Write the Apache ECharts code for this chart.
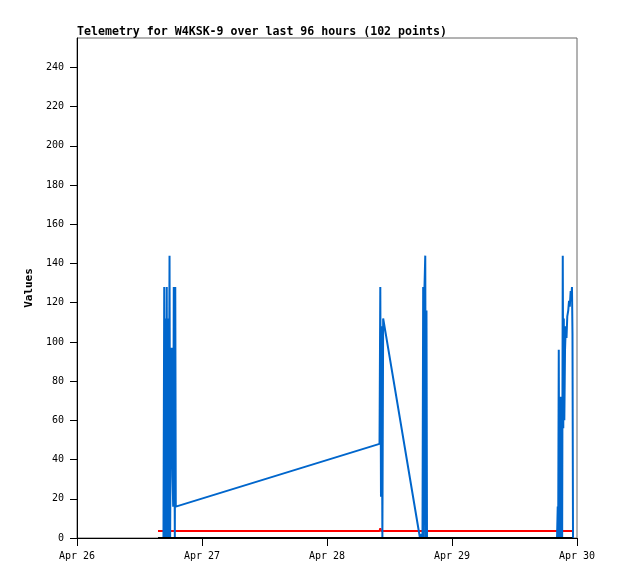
<!DOCTYPE html>
<html>
<head>
<meta charset="utf-8">
<script src="https://cdn.jsdelivr.net/npm/echarts@6/dist/echarts.min.js"></script>
<style>html,body{margin:0;padding:0;background:#fff}#c{width:618px;height:579px}</style>
</head>
<body>
<div id="c"></div>
<script>
const titleText = 'Telemetry for W4KSK-9 over last 96 hours (102 points)';
const axisStart = '2024-04-26 00:00';
const xTickLabels = ['Apr 26', 'Apr 27', 'Apr 28', 'Apr 29', 'Apr 30'];
const yTickValues = [0, 20, 40, 60, 80, 100, 120, 140, 160, 180, 200, 220, 240];

const times = [
  '2024-04-26 15:33','2024-04-26 16:36','2024-04-26 16:45','2024-04-26 16:48','2024-04-26 16:51','2024-04-26 16:57',
  '2024-04-26 17:01','2024-04-26 17:04','2024-04-26 17:11','2024-04-26 17:14','2024-04-26 17:18','2024-04-26 17:25','2024-04-26 17:28','2024-04-26 17:32',
  '2024-04-26 17:39','2024-04-26 17:46','2024-04-26 17:53','2024-04-26 17:58','2024-04-26 18:04',
  '2024-04-26 18:10','2024-04-26 18:16','2024-04-26 18:21','2024-04-26 18:28','2024-04-26 18:35',
  '2024-04-26 18:41','2024-04-26 18:47','2024-04-26 18:52','2024-04-26 18:58',
  '2024-04-28 10:05','2024-04-28 10:14','2024-04-28 10:22','2024-04-28 10:30','2024-04-28 10:38',
  '2024-04-28 10:47','2024-04-28 17:51',
  '2024-04-28 18:09','2024-04-28 18:20','2024-04-28 18:28','2024-04-28 18:35','2024-04-28 18:43',
  '2024-04-28 18:52','2024-04-28 18:59','2024-04-28 19:06','2024-04-28 19:12',
  '2024-04-29 20:10','2024-04-29 20:18','2024-04-29 20:23','2024-04-29 20:30','2024-04-29 20:36',
  '2024-04-29 20:44','2024-04-29 20:50','2024-04-29 20:56','2024-04-29 21:03','2024-04-29 21:09',
  '2024-04-29 21:16','2024-04-29 21:22','2024-04-29 21:28','2024-04-29 21:34','2024-04-29 21:42',
  '2024-04-29 21:51','2024-04-29 21:59','2024-04-29 22:08','2024-04-29 22:19','2024-04-29 22:28',
  '2024-04-29 22:37','2024-04-29 22:47','2024-04-29 22:57','2024-04-29 23:02','2024-04-29 23:08',
  '2024-04-29 23:14'
];
const blueValues = [
  0, 0, 128, 64, 0, 112,
  50, 0, 64, 128, 0, 60, 112, 0,
  50, 144, 0, 50, 64,
  97, 50, 31, 16, 128,
  60, 0, 128, 16,
  48, 128, 21, 108, 0,
  112, 0,
  2, 0, 128, 0, 128,
  144, 0, 116, 0,
  0, 16, 0, 96, 0,
  16, 72, 0, 24, 0,
  144, 56, 112, 60, 96,
  108, 102, 113, 116, 121,
  118, 126, 124, 128, 104,
  0
];
const redValues = times.map(t => (t === '2024-04-28 10:14' ? 5 : 3.6));
const blackValues = times.map(() => 0);

function hoursFrom(s) {
  const p = s.split(/[- :]/).map(Number);
  return Date.UTC(p[0], p[1] - 1, p[2], p[3], p[4]) / 3600000;
}
const h0 = hoursFrom(axisStart);
const xs = times.map(t => hoursFrom(t) - h0);
const pair = vals => xs.map((x, i) => [x, vals[i]]);

const mono = 'DejaVu Sans Mono';
const chart = echarts.init(document.getElementById('c'), null, { renderer: 'canvas' });
chart.setOption({
  animation: false,
  backgroundColor: '#fff',
  title: {
    text: titleText, left: 77, top: 26, padding: 0,
    textStyle: { fontFamily: mono, fontWeight: 'bold', fontSize: 11.6, color: '#000' }
  },
  grid: { left: 77, right: 41, top: 38, bottom: 41, show: true, borderColor: '#666', borderWidth: 1 },
  xAxis: {
    type: 'value', min: 0, max: 96, interval: 24,
    axisLine: { show: true, lineStyle: { color: '#000', width: 1 } },
    axisTick: { show: true, length: 8, lineStyle: { color: '#000' } },
    splitLine: { show: false },
    axisLabel: {
      margin: 13, color: '#000', fontFamily: mono, fontSize: 10,
      formatter: v => xTickLabels[Math.round(v / 24)] || ''
    }
  },
  yAxis: {
    type: 'value', min: 0, max: 255,
    name: 'Values', nameLocation: 'middle', nameGap: 39, nameRotate: 90,
    nameTextStyle: { fontFamily: mono, fontWeight: 'bold', fontSize: 11, color: '#000' },
    axisLine: { show: true, lineStyle: { color: '#000', width: 1 } },
    axisTick: { show: true, length: 7, customValues: yTickValues, lineStyle: { color: '#000' } },
    splitLine: { show: false },
    axisLabel: {
      margin: 13, color: '#000', fontFamily: mono, fontSize: 10, padding: [3, 0, 0, 0],
      customValues: yTickValues,
      formatter: v => (v % 20 === 0 ? String(v) : '')
    }
  },
  series: [
    { type: 'line', data: pair(redValues), showSymbol: false, symbol: 'none', z: 2,
      lineStyle: { color: '#ff0000', width: 2 } },
    { type: 'line', data: pair(blueValues), showSymbol: false, symbol: 'none', z: 3,
      lineStyle: { color: '#0066cc', width: 2 } },
    { type: 'line', data: pair(blackValues), showSymbol: false, symbol: 'none', z: 4,
      lineStyle: { color: '#000000', width: 2 } }
  ]
});
</script>
</body>
</html>
